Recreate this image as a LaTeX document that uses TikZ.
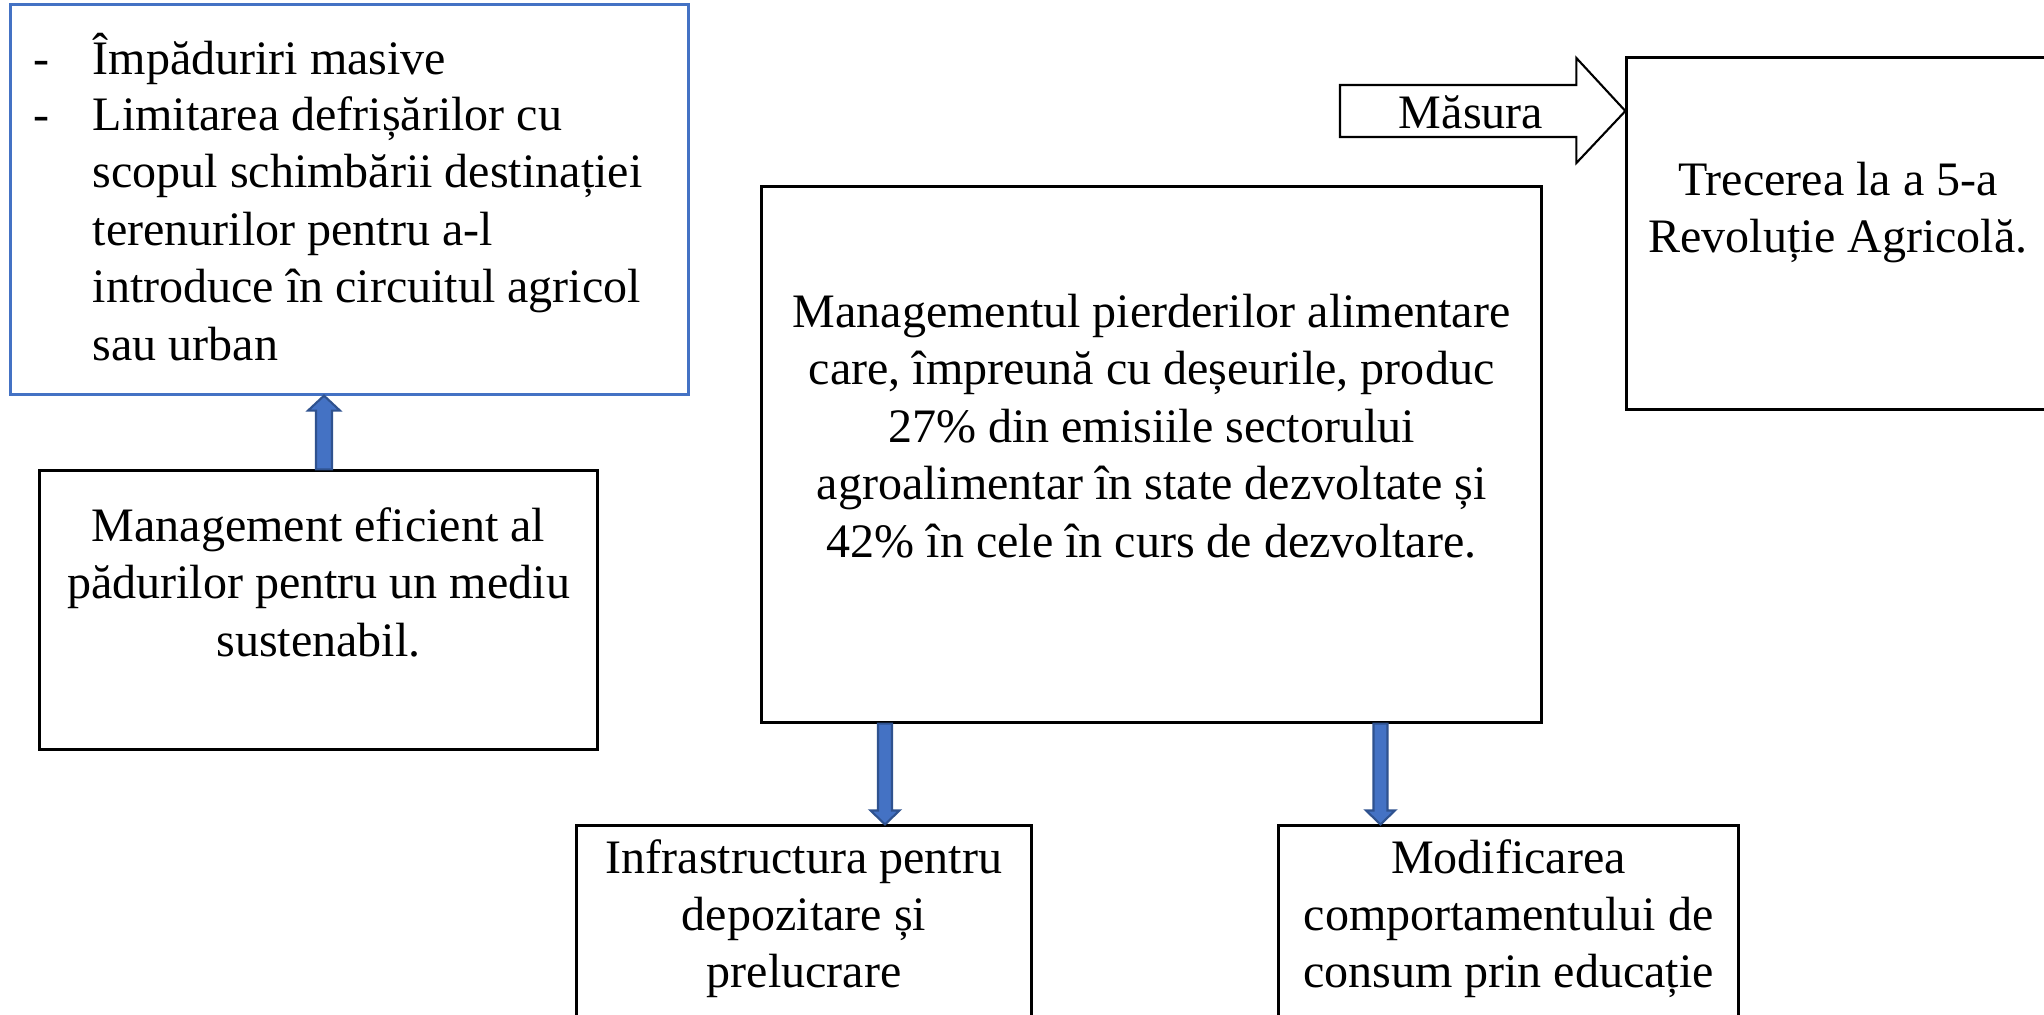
\documentclass[tikz,border=0pt]{standalone}
\usepackage{fontspec}
\setmainfont{Liberation Serif}
\usetikzlibrary{calc}
\definecolor{accblue}{HTML}{4472C4}
\definecolor{darkblue}{HTML}{2F528F}
\newcommand\dfont{\fontsize{13.66}{16}\selectfont}
\tikzset{
  boxnode/.style={draw=black, line width=0.85pt, fill=white, inner sep=0pt},
  bluebox/.style={draw=accblue, line width=0.85pt, fill=white, inner sep=0pt},
  txt/.style={anchor=base, inner sep=0pt, font=\dfont},
  txtl/.style={anchor=base west, inner sep=0pt, font=\dfont},
  blockarr/.style={draw=darkblue, line width=0.6pt, fill=accblue, line join=miter},
  outlinearr/.style={draw=black, line width=0.6pt, fill=white, line join=miter}
}
\begin{document}
\begin{tikzpicture}[x=0.01cm, y=-0.01cm]
\clip (0,0) rectangle (2044,1014);
\fill[white] (0,0) rectangle (2044,1014);

% boxes
\node[bluebox, minimum width=6.77cm, minimum height=3.89cm] (blue) at (349.5,199.5) {};
\node[boxnode, minimum width=5.57cm, minimum height=2.78cm] (mgmt) at (318.5,610) {};
\node[boxnode, minimum width=7.79cm, minimum height=5.35cm] (center) at (1151.5,454.5) {};
\node[boxnode, minimum width=4.23cm, minimum height=3.51cm] (right) at (1838.5,233.5) {};
\node[boxnode, minimum width=4.54cm, minimum height=2.14cm] (infra) at (804,933) {};
\node[boxnode, minimum width=4.59cm, minimum height=2.14cm] (modif) at (1508.5,933) {};

% blue box text
\node[txtl] (d1) at (33,74) {-};
\node[txtl] (d2) at (33,130) {-};
\node[txtl] (bl1) at (92,74) {Împăduriri masive};
\foreach \t [count=\i] in {Limitarea defrișărilor cu, scopul schimbării destinației, terenurilor pentru a-l, introduce în circuitul agricol, sau urban}
  \node[txtl] (bl\i) at (92,{130+57.5*(\i-1)}) {\t};

% management box text
\foreach \t [count=\i] in {Management eficient al, pădurilor pentru un mediu, sustenabil.}
  \node[txt] (mg\i) at (318.5,{541+57.5*(\i-1)}) {\t};

% center box text
\foreach \t [count=\i] in {Managementul pierderilor alimentare, {care, împreună cu deșeurile, produc}, 27\% din emisiile sectorului, agroalimentar în state dezvoltate și, 42\% în cele în curs de dezvoltare.}
  \node[txt] (ce\i) at (1151.5,{327+57.5*(\i-1)}) {\t};

% right box text
\node[txt] (r1) at (1838,195) {Trecerea la a 5-a};
\node[txt] (r2) at (1838,252.5) {Revoluție Agricolă.};

% bottom boxes text
\foreach \t [count=\i] in {Infrastructura pentru, depozitare și, prelucrare}
  \node[txt] (in\i) at (804,{873+57*(\i-1)}) {\t};
\foreach \t [count=\i] in {Modificarea, comportamentului de, consum prin educație}
  \node[txt] (mo\i) at (1508.5,{873+57*(\i-1)}) {\t};

% up arrow: mgmt -> blue
\coordinate (ut) at (324,0 |- mgmt.north);
\coordinate (uh) at (324,0 |- blue.south);
\draw[blockarr] ($(ut)+(-8,0)$) -- ($(uh)+(-8,15)$) -- ($(uh)+(-16,15)$) -- (uh)
  -- ($(uh)+(16,15)$) -- ($(uh)+(8,15)$) -- ($(ut)+(8,0)$) -- cycle;

% down arrows: center -> infra, center -> modif
\coordinate (at1) at (885,0 |- center.south);
\coordinate (ah1) at (885,0 |- infra.north);
\draw[blockarr] ($(at1)+(-7,0)$) -- ($(ah1)+(-7,-14)$) -- ($(ah1)+(-14.5,-14)$) -- (ah1)
  -- ($(ah1)+(14.5,-14)$) -- ($(ah1)+(7,-14)$) -- ($(at1)+(7,0)$) -- cycle;
\coordinate (at2) at (1380.5,0 |- center.south);
\coordinate (ah2) at (1380.5,0 |- modif.north);
\draw[blockarr] ($(at2)+(-7,0)$) -- ($(ah2)+(-7,-14)$) -- ($(ah2)+(-14.5,-14)$) -- (ah2)
  -- ($(ah2)+(14.5,-14)$) -- ($(ah2)+(7,-14)$) -- ($(at2)+(7,0)$) -- cycle;

% Masura arrow -> right box
\coordinate (mtail) at (1340,111);
\coordinate (mtip) at (right.west |- mtail);
\draw[outlinearr] ($(mtail)+(0,-26)$) -- ($(mtip)+(-49,-26)$) -- ($(mtip)+(-49,-53)$) -- (mtip)
  -- ($(mtip)+(-49,52)$) -- ($(mtip)+(-49,26)$) -- ($(mtail)+(0,26)$) -- cycle;
\node[txt] (mlabel) at (1471,128) {Măsura};
\end{tikzpicture}
\end{document}
